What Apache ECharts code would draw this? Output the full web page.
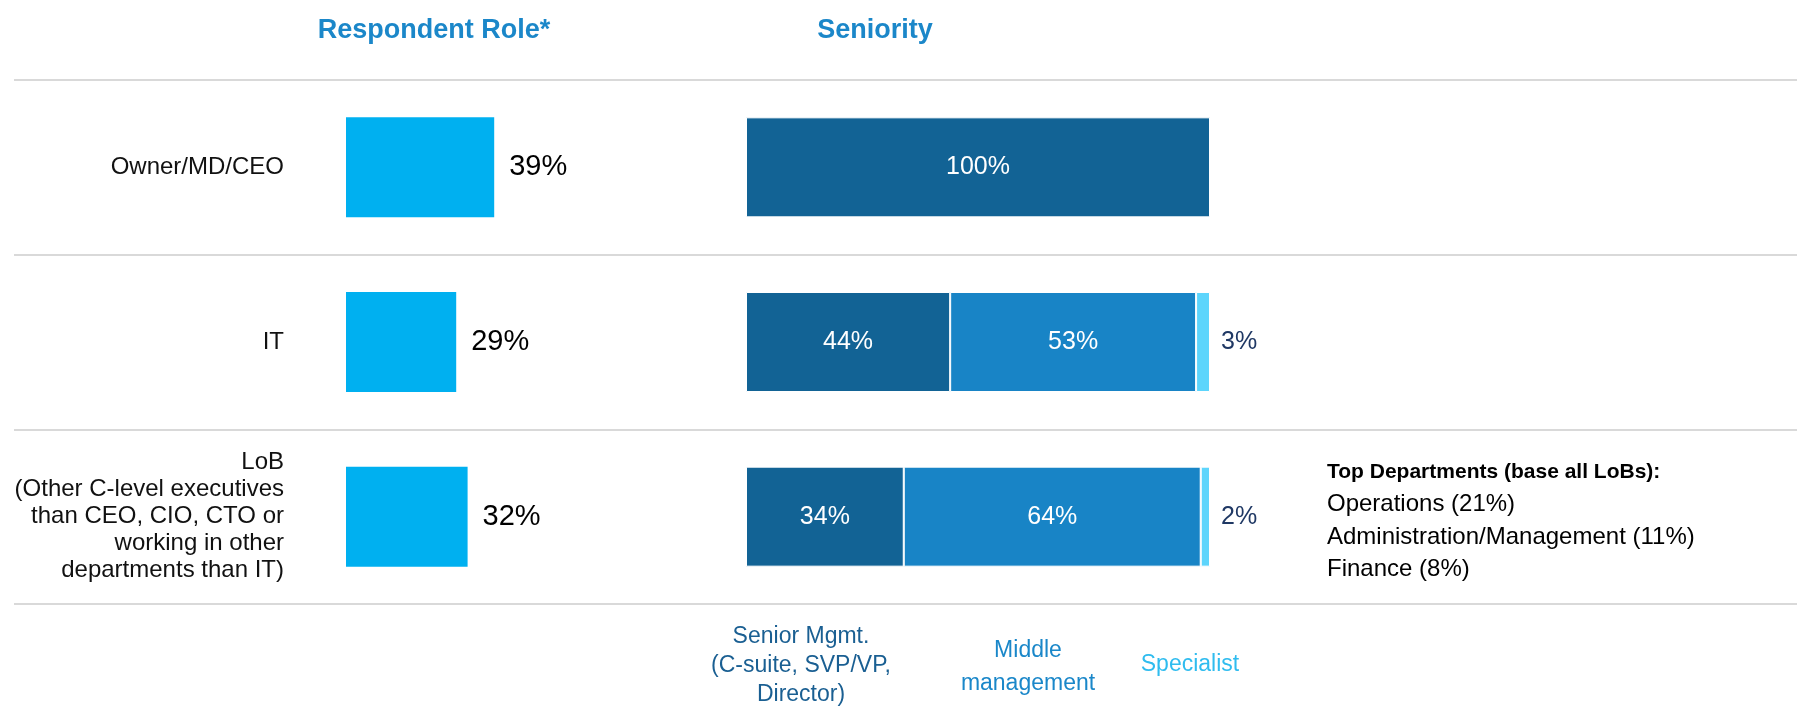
<!DOCTYPE html>
<html>
<head>
<meta charset="utf-8">
<title>Respondent Role and Seniority</title>
<script src="https://cdn.jsdelivr.net/npm/echarts@6/dist/echarts.min.js"></script>
<style>
  html, body { margin: 0; padding: 0; background: #ffffff; }
  #chart { width: 1797px; height: 708px; }
</style>
</head>
<body>
<div id="chart"></div>
<script>
// Respondent groups (rows, top to bottom)
const categories = [
  'Owner/MD/CEO',
  'IT',
  'LoB\n(Other C-level executives\nthan CEO, CIO, CTO or\nworking in other\ndepartments than IT)'
];

// Share of respondents per role (%)
const roleShare = [39, 29, 32];

// Seniority split inside each role (%)
const seniorMgmt = [100, 44, 34];
const middleMgmt = [null, 53, 64];
const specialist = [null, 3, 2];

// Panel headings and seniority legend
const panelTitles = ['Respondent Role*', 'Seniority'];
const seniorityNames = ['Senior Mgmt.\n(C-suite, SVP/VP,\nDirector)', 'Middle\nmanagement', 'Specialist'];

// Side note for the LoB row
const deptHeading = 'Top Departments (base all LoBs):';
const deptLines = ['Operations (21%)', 'Administration/Management (11%)', 'Finance (8%)'];

const FONT = 'Liberation Sans, Arial, sans-serif';
const COLORS = {
  role: '#00b0f0',
  senior: '#126395',
  middle: '#1884c6',
  specialist: '#5dd5fc',
  title: '#1b87c9',
  grid: '#d9d9d9'
};

const pct = p => (p.value == null ? '' : p.value + '%');

const chart = echarts.init(document.getElementById('chart'), null, { renderer: 'canvas' });

const GRID_TOP = 80, GRID_BOTTOM = 104;

chart.setOption({
  animation: false,
  textStyle: { fontFamily: FONT },
  grid: [
    // row separators spanning the full width
    { left: 14, right: 0, top: GRID_TOP, bottom: GRID_BOTTOM },
    // respondent role bars
    { left: 346, width: 380, top: GRID_TOP, bottom: GRID_BOTTOM },
    // seniority stacked bars
    { left: 746, width: 464, top: GRID_TOP, bottom: GRID_BOTTOM }
  ],
  xAxis: [
    { gridIndex: 0, type: 'value', show: false, min: 0, max: 100 },
    { gridIndex: 1, type: 'value', show: false, min: 0, max: 100 },
    { gridIndex: 2, type: 'value', show: false, min: 0, max: 100 }
  ],
  yAxis: [
    {
      gridIndex: 0, type: 'category', inverse: true, data: categories,
      axisLine: { show: false }, axisTick: { show: false }, axisLabel: { show: false },
      splitLine: { show: true, lineStyle: { color: COLORS.grid, width: 2 } }
    },
    {
      gridIndex: 1, type: 'category', inverse: true, data: categories,
      axisLine: { show: false }, axisTick: { show: false },
      splitLine: { show: false },
      axisLabel: {
        margin: 62, align: 'right', fontSize: 24, lineHeight: 27,
        padding: [8, 0, 0, 0],
        color: '#111111', fontFamily: FONT
      }
    },
    {
      gridIndex: 2, type: 'category', inverse: true, data: categories,
      show: false
    }
  ],
  series: [
    {
      name: 'Respondent Role', type: 'bar', xAxisIndex: 1, yAxisIndex: 1,
      data: roleShare, barWidth: 100,
      itemStyle: { color: COLORS.role },
      label: {
        show: true, position: 'right', distance: 15, formatter: pct,
        fontSize: 29, color: '#000000', fontFamily: FONT
      }
    },
    {
      name: 'Senior Mgmt.', type: 'bar', stack: 'seniority', xAxisIndex: 2, yAxisIndex: 2,
      data: seniorMgmt, barWidth: 100,
      itemStyle: { color: COLORS.senior, borderColor: '#ffffff', borderWidth: 1 },
      label: { show: true, position: 'inside', formatter: pct, fontSize: 25, color: '#ffffff', fontFamily: FONT }
    },
    {
      name: 'Middle management', type: 'bar', stack: 'seniority', xAxisIndex: 2, yAxisIndex: 2,
      data: middleMgmt, barWidth: 100,
      itemStyle: { color: COLORS.middle, borderColor: '#ffffff', borderWidth: 1 },
      label: { show: true, position: 'inside', formatter: pct, fontSize: 25, color: '#ffffff', fontFamily: FONT }
    },
    {
      name: 'Specialist', type: 'bar', stack: 'seniority', xAxisIndex: 2, yAxisIndex: 2,
      data: specialist, barWidth: 100,
      itemStyle: { color: COLORS.specialist, borderColor: '#ffffff', borderWidth: 1 },
      label: { show: true, position: 'right', distance: 11, formatter: pct, fontSize: 25, color: '#1f3864', fontFamily: FONT }
    }
  ],
  graphic: [
    // panel headings
    {
      type: 'text', x: 434, y: 31,
      style: { text: panelTitles[0], font: 'bold 27px ' + FONT, fill: COLORS.title, textAlign: 'center', textVerticalAlign: 'middle' }
    },
    {
      type: 'text', x: 875, y: 31,
      style: { text: panelTitles[1], font: 'bold 27px ' + FONT, fill: COLORS.title, textAlign: 'center', textVerticalAlign: 'middle' }
    },
    // seniority legend below the bars
    {
      type: 'text', x: 801, y: 666,
      style: { text: seniorityNames[0], font: '23px ' + FONT, lineHeight: 29, fill: '#1a5f92', textAlign: 'center', textVerticalAlign: 'middle' }
    },
    {
      type: 'text', x: 1028, y: 667,
      style: { text: seniorityNames[1], font: '23px ' + FONT, lineHeight: 33, fill: '#1a87c9', textAlign: 'center', textVerticalAlign: 'middle' }
    },
    {
      type: 'text', x: 1190, y: 665,
      style: { text: seniorityNames[2], font: '23px ' + FONT, fill: '#2fbcef', textAlign: 'center', textVerticalAlign: 'middle' }
    },
    // department note next to the LoB row
    {
      type: 'text', x: 1327, y: 472,
      style: { text: deptHeading, font: 'bold 21px ' + FONT, fill: '#000000', textAlign: 'left', textVerticalAlign: 'middle' }
    },
    {
      type: 'text', x: 1327, y: 537,
      style: { text: deptLines.join('\n'), font: '24px ' + FONT, lineHeight: 32.7, fill: '#000000', textAlign: 'left', textVerticalAlign: 'middle' }
    }
  ]
});
</script>
</body>
</html>
